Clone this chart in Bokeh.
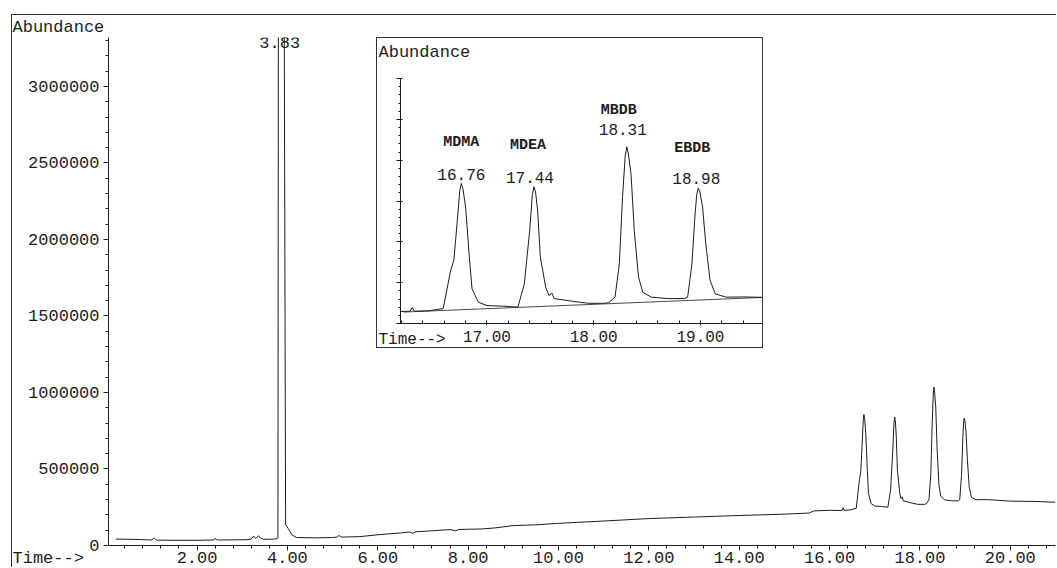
from bokeh.plotting import figure
from bokeh.models import (Range1d, Label, SingleIntervalTicker, FixedTicker,
                          NumeralTickFormatter, CustomJSTickFormatter)
from bokeh.embed import file_html
from bokeh.resources import INLINE

# ---------------- data ----------------
time_min = [0.20, 0.60, 1.00, 1.05, 1.10, 1.60, 2.00, 2.37, 2.40, 2.45, 2.80, 3.10,
            3.20, 3.25, 3.30, 3.36, 3.41, 3.47, 3.60, 3.75, 3.79, 3.80, 3.93, 3.96,
            4.02, 4.10, 4.20, 4.60, 5.00, 5.10, 5.14, 5.20, 5.60, 6.00, 6.50, 6.70,
            6.77, 6.85, 7.20, 7.60, 7.72, 7.80, 8.30, 8.60, 9.00, 9.50, 10.00, 11.00,
            12.00, 13.00, 14.00, 15.00, 15.55, 15.65, 16.00, 16.23, 16.28, 16.30, 16.32,
            16.45, 16.59, 16.66, 16.69, 16.72, 16.745, 16.76, 16.775, 16.80, 16.835, 16.86,
            16.92, 17.00, 17.15, 17.29, 17.35, 17.40, 17.425, 17.44, 17.455, 17.475, 17.50,
            17.55, 17.58, 17.61, 17.63, 17.80, 17.95, 18.10, 18.14, 18.20, 18.24, 18.27,
            18.295, 18.31, 18.325, 18.35, 18.38, 18.42, 18.46, 18.54, 18.70, 18.85, 18.88,
            18.92, 18.95, 18.965, 18.98, 18.995, 19.02, 19.05, 19.09, 19.14, 19.24, 19.40,
            19.60, 20.00, 20.50, 21.00]
abundance = [42000, 40000, 36000, 50000, 35000, 34000, 34000, 36000, 46000, 36000, 37000, 38000,
             42000, 62000, 45000, 64000, 48000, 40000, 41000, 43000, 50000, 3400000, 3400000, 135000,
             110000, 70000, 52000, 50000, 52000, 55000, 65000, 55000, 58000, 70000, 82000, 88000,
             80000, 90000, 96000, 104000, 96000, 105000, 108000, 115000, 130000, 135000, 145000, 160000,
             176000, 186000, 196000, 205000, 212000, 226000, 230000, 229000, 230000, 248000, 230000,
             232000, 243000, 430000, 480000, 660000, 820000, 856000, 830000, 740000, 495000, 340000,
             274000, 258000, 255000, 250000, 364000, 625000, 800000, 840000, 815000, 720000, 495000,
             348000, 307000, 318000, 292000, 279000, 269000, 269000, 272000, 300000, 462000, 788000,
             990000, 1035000, 1000000, 900000, 625000, 397000, 323000, 299000, 292000, 292000, 299000,
             462000, 707000, 800000, 833000, 815000, 740000, 560000, 381000, 315000, 299000, 300000,
             298000, 290000, 288000, 283000]

peak_names = ["MDMA", "MDEA", "MBDB", "EBDB"]
peak_times = [16.76, 17.44, 18.31, 18.98]
solvent_peak_time = 3.83
baseline_time = [16.22, 19.60]
baseline_abundance = [226000, 298000]

FONT = "Liberation Mono"
INK = "#1c1c1c"


def style_axis(ax, size="17px"):
    ax.axis_line_color = INK
    ax.major_tick_line_color = INK
    ax.minor_tick_line_color = INK
    ax.major_label_text_font = FONT
    ax.major_label_text_font_size = size
    ax.major_label_text_color = INK


def text_overlay(text, left, top, w, h, size, ypos=0.5):
    """A small axis-less figure that carries one text, laid over the page."""
    f = figure(frame_width=w, frame_height=h, x_range=Range1d(0, 1), y_range=Range1d(0, 1),
               min_border_left=0, min_border_right=0, min_border_top=0, min_border_bottom=0,
               x_axis_location=None, y_axis_location=None,
               output_backend="svg", toolbar_location=None,
               styles={"position": "absolute", "left": f"{left}px", "top": f"{top}px",
                       "z-index": "20"})
    f.xgrid.visible = False
    f.ygrid.visible = False
    f.outline_line_color = None
    f.background_fill_color = None
    f.border_fill_color = None
    f.add_layout(Label(x=0, y=ypos, text=text, text_align="left", text_baseline="middle",
                       text_font=FONT, text_font_size=size, text_color=INK))
    return f


# ---------------- main chromatogram ----------------
main = figure(width=1045, height=553, margin=(14, 0, 0, 11),
              x_range=Range1d(0.04, 21.0), y_range=Range1d(0, 3320000),
              min_border_left=96, min_border_right=2, min_border_top=22, min_border_bottom=23,
              output_backend="svg", toolbar_location=None,
              styles={"border-left": "1px solid #333", "border-top": "1px solid #333"})
main.line(time_min, abundance, line_color=INK, line_width=1)
main.xgrid.visible = False
main.ygrid.visible = False
main.outline_line_color = None
main.background_fill_color = "white"
main.border_fill_color = "white"

t = main.title
t.text = "Abundance"
t.align = "left"
t.offset = -96
t.standoff = 1
t.text_font = FONT
t.text_font_size = "17px"
t.text_font_style = "normal"
t.text_color = INK

xa = main.xaxis[0]
xa.ticker = SingleIntervalTicker(interval=2, num_minor_ticks=5)
xa.formatter = NumeralTickFormatter(format="0.00")
xa.major_tick_out = 5
xa.minor_tick_out = 3
xa.major_tick_in = 0
xa.minor_tick_in = 0
xa.major_label_standoff = 1
style_axis(xa)

ya = main.yaxis[0]
ya.ticker = SingleIntervalTicker(interval=500000, num_minor_ticks=5)
ya.formatter = NumeralTickFormatter(format="0")
ya.major_tick_out = 5
ya.minor_tick_out = 3
ya.major_tick_in = 0
ya.minor_tick_in = 0
ya.major_label_standoff = 4
style_axis(ya)

main.add_layout(Label(x=solvent_peak_time, y=503, x_units="data", y_units="screen",
                      text=f"{solvent_peak_time:.2f}", text_align="center",
                      text_baseline="middle", text_font=FONT, text_font_size="17px",
                      text_color=INK))

# ---------------- inset ----------------
y0, y1 = 170000, 1370000
inset = figure(width=387, height=311,
               x_range=Range1d(16.19, 19.60), y_range=Range1d(y0, y1),
               min_border_left=23, min_border_right=0, min_border_top=40, min_border_bottom=26,
               output_backend="svg", toolbar_location=None,
               styles={"position": "absolute", "left": "376px", "top": "37px",
                       "border": "1px solid #333", "z-index": "10", "background": "white"})
inset.line(time_min, abundance, line_color=INK, line_width=1)
inset.line(baseline_time, baseline_abundance, line_color=INK, line_width=0.8)
inset.xgrid.visible = False
inset.ygrid.visible = False
inset.outline_line_color = None
inset.background_fill_color = "white"
inset.border_fill_color = "white"

ixa = inset.xaxis[0]
ixa.ticker = SingleIntervalTicker(interval=1, num_minor_ticks=5)
ixa.formatter = NumeralTickFormatter(format="0.00")
ixa.major_tick_out = 2
ixa.major_tick_in = 3
ixa.minor_tick_out = 0
ixa.minor_tick_in = 3
ixa.major_label_standoff = 5
style_axis(ixa, "16px")

iya = inset.yaxis[0]
iya.ticker = FixedTicker(ticks=[y0 + i * (y1 - y0) / 6 for i in range(7)],
                         minor_ticks=[y0 + i * (y1 - y0) / 30 for i in range(31)])
iya.formatter = CustomJSTickFormatter(code="return ''")
iya.major_tick_out = 4
iya.major_tick_in = 2
iya.minor_tick_out = 2
iya.minor_tick_in = 0
iya.major_label_standoff = 0
style_axis(iya, "16px")
iya.major_label_text_font_size = "0px"

name_y = [181, 178, 213, 175]
name_dx = [0, -6, -8, -6]
time_y = [149, 146, 194, 145]
time_dx = [0, -4, -4, -2]
for name, tt, ny, nd, ty, td in zip(peak_names, peak_times, name_y, name_dx, time_y, time_dx):
    inset.add_layout(Label(x=tt, y=ny, x_units="data", y_units="screen", text=name,
                           x_offset=nd, text_align="center", text_baseline="middle",
                           text_font=FONT, text_font_size="15px", text_color=INK,
                           text_font_style="bold"))
    inset.add_layout(Label(x=tt, y=ty, x_units="data", y_units="screen", text=f"{tt:.2f}",
                           x_offset=td, text_align="center", text_baseline="middle",
                           text_font=FONT, text_font_size="16px", text_color=INK))

time_main = text_overlay("Time-->", 12, 540, 90, 28, "17px", ypos=0.36)
time_inset = text_overlay("Time-->", 378, 327, 80, 24, "16px")
abund_inset = text_overlay("Abundance", 378, 40, 110, 24, "17px")

open("out.html", "w").write(file_html([main, inset, time_main, time_inset, abund_inset], INLINE))
